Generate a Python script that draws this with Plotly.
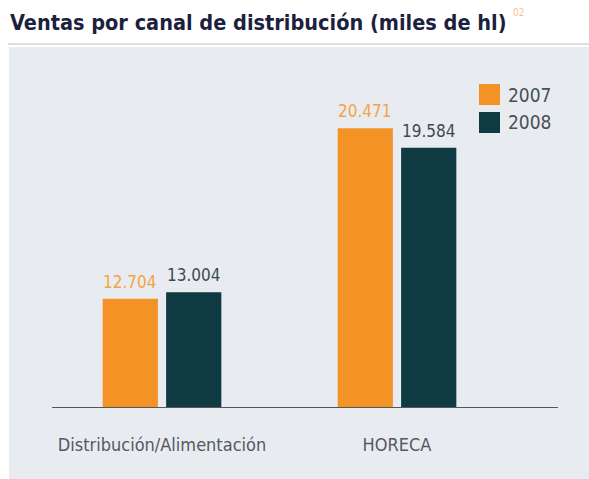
import plotly.graph_objects as go

categories = ["Distribución/Alimentación", "HORECA"]
series_names = ["2007", "2008"]
values_2007 = [12704, 20471]
values_2008 = [13004, 19584]

ORANGE = "#f39325"
DARK = "#0f3a41"
PANEL = "#e8ecf0"

W, H = 589, 479
L, R, T, B = 52, 31, 70, 71
PW, PH = W - L - R, H - T - B


def px(x):
    return (x - L) / PW


def py(y):
    return (H - B - y) / PH


narrow = "Liberation Sans Narrow, DejaVu Sans Condensed, Arial Narrow, sans-serif"

fig = go.Figure()
fig.add_trace(go.Bar(x=categories, y=values_2007, name=series_names[0],
                     marker=dict(color=ORANGE, line=dict(width=0)), showlegend=False))
fig.add_trace(go.Bar(x=categories, y=values_2008, name=series_names[1],
                     marker=dict(color=DARK, line=dict(width=0)), showlegend=False))

annotations = []
offset_px = 31.7
for i, c in enumerate(categories):
    annotations.append(dict(x=c, y=values_2007[i], xref="x", yref="y",
                            text=f"{values_2007[i]:,}".replace(",", "."),
                            showarrow=False, xshift=-offset_px, yshift=17, yanchor="middle",
                            font=dict(family=narrow, size=17, color="#f2a445")))
    annotations.append(dict(x=c, y=values_2008[i], xref="x", yref="y",
                            text=f"{values_2008[i]:,}".replace(",", "."),
                            showarrow=False, xshift=offset_px, yshift=17, yanchor="middle",
                            font=dict(family=narrow, size=17, color="#3d4a50")))

# legend (drawn manually to match square sizes)
legend_items = [(series_names[0], ORANGE, 84, 105), (series_names[1], DARK, 112, 133)]
shapes = [
    dict(type="rect", xref="paper", yref="paper", x0=px(9), x1=px(589), y0=py(479), y1=py(47),
         fillcolor=PANEL, line=dict(width=0), layer="below"),
    dict(type="line", xref="paper", yref="paper", x0=px(8), x1=px(589), y0=py(44), y1=py(44),
         line=dict(color="#b9bec4", width=1)),
]
for name, col, y0, y1 in legend_items:
    shapes.append(dict(type="rect", xref="paper", yref="paper", x0=px(479), x1=px(500),
                       y0=py(y1), y1=py(y0), fillcolor=col, line=dict(width=0)))
    annotations.append(dict(x=px(506), y=py((y0 + y1) / 2), xref="paper", yref="paper",
                            text=name, showarrow=False, xanchor="left", yanchor="middle",
                            font=dict(family=narrow, size=19, color="#4a4f55")))

annotations.append(dict(x=px(511), y=py(13), xref="paper", yref="paper", text="02",
                        showarrow=False, xanchor="left", yanchor="middle",
                        font=dict(family=narrow, size=10, color="#f5c58e")))

fig.update_layout(
    width=W, height=H,
    margin=dict(l=L, r=R, t=T, b=B),
    paper_bgcolor="white",
    plot_bgcolor="rgba(0,0,0,0)",
    barmode="group",
    bargap=0.46,
    bargroupgap=0.13,
    separators=",.",
    title=dict(text="<b>Ventas por canal de distribución (miles de hl)</b>",
               x=10 / W, xanchor="left", xref="container",
               y=1 - 22 / H, yanchor="middle", yref="container",
               font=dict(family="DejaVu Sans Condensed, Liberation Sans Narrow, sans-serif",
                         size=21.5, color="#1d1f3f")),
    xaxis=dict(range=[(L - 162) / 235, (L + PW - 162) / 235],
               showgrid=False, zeroline=False, showline=False,
               ticks="", ticklabelstandoff=24,
               tickfont=dict(family=narrow, size=18, color="#55595e")),
    yaxis=dict(range=[7734, 7734 + PH / 0.021965], visible=False, showgrid=False,
               fixedrange=True),
    shapes=shapes + [dict(type="line", xref="paper", yref="y", x0=0, x1=1, y0=7734, y1=7734,
                          line=dict(color="#56575a", width=2))],
    annotations=annotations,
)

fig.write_html("out.html", config={"displayModeBar": False},
               post_script="document.body.style.margin='0';")
